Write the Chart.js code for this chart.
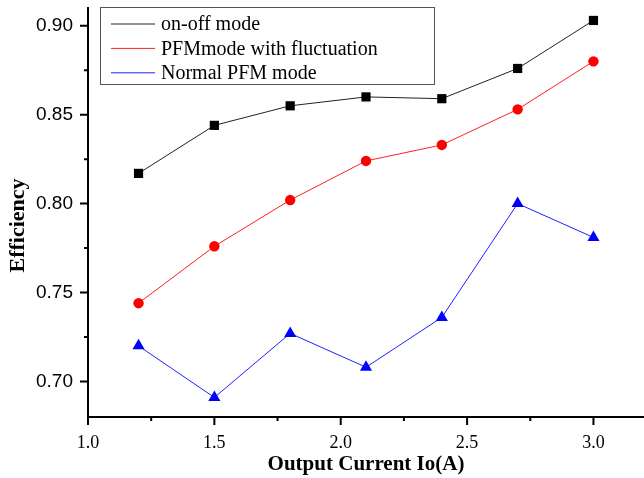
<!DOCTYPE html>
<html>
<head>
<meta charset="utf-8">
<script src="https://cdn.jsdelivr.net/npm/chart.js@4.4.0/dist/chart.umd.min.js"></script>
<style>
    html, body { margin: 0; padding: 0; background: #fff; }
    #wrap { width: 644px; height: 478px; }
</style>
</head>
<body>
<div id="wrap"><canvas id="effChart"></canvas></div>
<script>
const currents = [1.2, 1.5, 1.8, 2.1, 2.4, 2.7, 3.0];
const onOffMode = [0.817, 0.844, 0.855, 0.860, 0.859, 0.876, 0.903];
const pfmFluctuation = [0.744, 0.776, 0.802, 0.824, 0.833, 0.853, 0.880];
const normalPfm = [0.720, 0.691, 0.727, 0.708, 0.736, 0.800, 0.781];
const seriesNames = ['on-off mode', 'PFMmode with fluctuation', 'Normal PFM mode'];
const xTickValues = [1.0, 1.5, 2.0, 2.5, 3.0];
const yTickValues = [0.70, 0.75, 0.80, 0.85, 0.90];
const yAxisTitle = 'Efficiency';

const serif = "'Liberation Serif', 'Times New Roman', serif";
const sans = "'Liberation Sans', Arial, sans-serif";

function toPoints(values) {
    return currents.map((c, i) => ({ x: c, y: values[i] }));
}

// ticks principais e secundarios desenhados por fora dos eixos
const axisTicks = {
    id: 'axisTicks',
    afterDraw(chart) {
        const ctx = chart.ctx;
        const sx = chart.scales.x;
        const sy = chart.scales.y;
        ctx.save();
        ctx.strokeStyle = '#000';
        ctx.lineWidth = 2;
        ctx.beginPath();
        xTickValues.forEach(v => {
            const px = sx.getPixelForValue(v);
            ctx.moveTo(px, sx.top);
            ctx.lineTo(px, sx.top + 8);
            const m = v + 0.25;
            if (m <= sx.max) {
                const pm = sx.getPixelForValue(m);
                ctx.moveTo(pm, sx.top);
                ctx.lineTo(pm, sx.top + 4);
            }
        });
        yTickValues.forEach(v => {
            const py = sy.getPixelForValue(v);
            ctx.moveTo(sy.right, py);
            ctx.lineTo(sy.right - 8, py);
            const m = v + 0.025;
            if (m <= sy.max) {
                const pm = sy.getPixelForValue(m);
                ctx.moveTo(sy.right, pm);
                ctx.lineTo(sy.right - 4, pm);
            }
        });
        ctx.stroke();

        // titulo do eixo Y (um pouco abaixo do centro, como no original)
        ctx.translate(18, (sy.top + sy.bottom) / 2 + 13);
        ctx.rotate(-Math.PI / 2);
        ctx.fillStyle = '#000';
        ctx.font = `bold 22px ${serif}`;
        ctx.textAlign = 'center';
        ctx.textBaseline = 'middle';
        ctx.fillText(yAxisTitle, 0, 0);
        ctx.restore();
    }
};

// legenda dentro da area do grafico, com moldura
const boxLegend = {
    id: 'boxLegend',
    afterDraw(chart) {
        const ctx = chart.ctx;
        const left = 100, top = 7, width = 334, height = 77;
        ctx.save();
        ctx.fillStyle = '#fff';
        ctx.fillRect(left, top, width, height);
        ctx.strokeStyle = '#555';
        ctx.lineWidth = 1;
        ctx.strokeRect(left + 0.5, top + 0.5, width, height);
        chart.data.datasets.forEach((ds, i) => {
            const cy = 24 + i * 24.4;
            ctx.strokeStyle = ds.borderColor;
            ctx.lineWidth = 1;
            ctx.beginPath();
            ctx.moveTo(111, cy);
            ctx.lineTo(155, cy);
            ctx.stroke();
            ctx.fillStyle = ds.pointBackgroundColor;
            Chart.helpers.drawPoint(ctx, {
                pointStyle: ds.pointStyle,
                rotation: 0,
                borderWidth: 0
            }, 132, cy, ds.pointRadius);
            ctx.fillStyle = '#000';
            ctx.font = `20px ${serif}`;
            ctx.textAlign = 'left';
            ctx.textBaseline = 'middle';
            ctx.fillText(ds.label, 161, cy + 1);
        });
        ctx.restore();
    }
};

const ctx = document.getElementById('effChart').getContext('2d');

new Chart(ctx, {
    type: 'scatter',
    data: {
        datasets: [
            {
                label: seriesNames[0],
                data: toPoints(onOffMode),
                showLine: true,
                borderColor: '#222',
                borderWidth: 1,
                pointStyle: 'rect',
                pointRadius: 6.5,
                pointBackgroundColor: '#000',
                pointBorderWidth: 0
            },
            {
                label: seriesNames[1],
                data: toPoints(pfmFluctuation),
                showLine: true,
                borderColor: '#ff2020',
                borderWidth: 1,
                pointStyle: 'circle',
                pointRadius: 5.2,
                pointBackgroundColor: '#ff0000',
                pointBorderWidth: 0
            },
            {
                label: seriesNames[2],
                data: toPoints(normalPfm),
                showLine: true,
                borderColor: '#2020ff',
                borderWidth: 1,
                pointStyle: 'triangle',
                pointRadius: 7,
                pointBackgroundColor: '#0000ff',
                pointBorderWidth: 0
            }
        ]
    },
    options: {
        responsive: true,
        maintainAspectRatio: false,
        animation: false,
        layout: {
            autoPadding: false,
            padding: { top: 8, right: 0, bottom: 0, left: 0 }
        },
        plugins: {
            legend: { display: false },
            tooltip: { enabled: false }
        },
        scales: {
            x: {
                type: 'linear',
                min: 1.0,
                max: 3.2,
                afterFit: scale => {
                    scale.height = 61;
                    scale.paddingLeft = 0;
                    scale.paddingRight = 0;
                },
                afterBuildTicks: scale => {
                    scale.ticks = xTickValues.map(v => ({ value: v }));
                },
                border: { display: true, color: '#000', width: 2 },
                grid: { display: true, drawOnChartArea: false, drawTicks: false },
                ticks: {
                    padding: 15,
                    color: '#000',
                    font: { size: 18, family: serif },
                    callback: value => value.toFixed(1)
                },
                title: {
                    display: true,
                    text: 'Output Current Io(A)',
                    color: '#000',
                    font: { size: 21, weight: 'bold', family: serif },
                    padding: { top: 0, bottom: 1 }
                }
            },
            y: {
                type: 'linear',
                min: 0.68,
                max: 0.91,
                afterFit: scale => {
                    scale.width = 88;
                    scale.paddingTop = 0;
                    scale.paddingBottom = 0;
                },
                afterBuildTicks: scale => {
                    scale.ticks = yTickValues.map(v => ({ value: v }));
                },
                border: { display: true, color: '#000', width: 2 },
                grid: { display: true, drawOnChartArea: false, drawTicks: false },
                ticks: {
                    padding: 15,
                    color: '#000',
                    font: { size: 19, family: sans },
                    callback: value => value.toFixed(2)
                },
                title: { display: false }
            }
        }
    },
    plugins: [axisTicks, boxLegend]
});
</script>
</body>
</html>
